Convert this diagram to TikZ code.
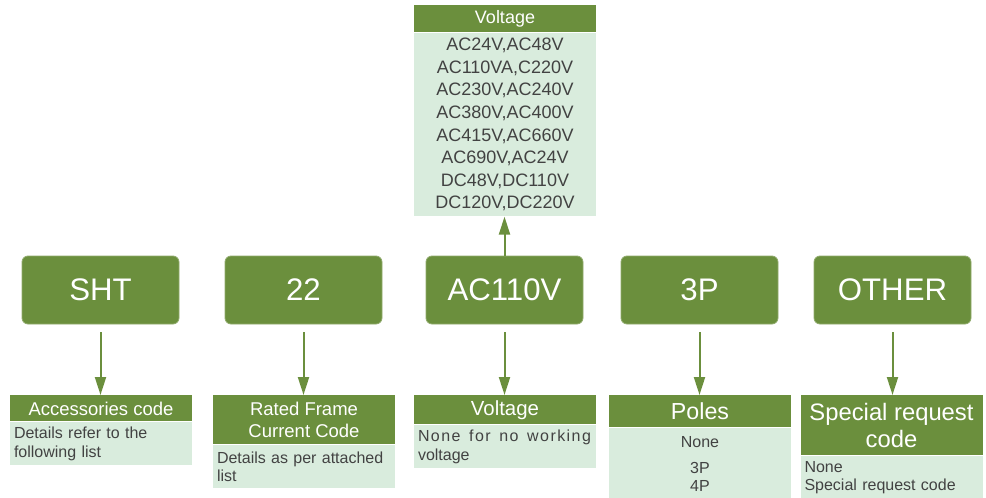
\documentclass[tikz,border=0pt]{standalone}
\usepackage{fontspec}
\setmainfont{Liberation Sans}
\usetikzlibrary{arrows.meta,positioning}
\definecolor{leaf}{HTML}{6B8F3D}
\definecolor{mint}{HTML}{D9ECDD}
\definecolor{ink}{HTML}{424242}

\begin{document}
\begin{tikzpicture}[
    x=0.5pt, y=-0.5pt,
    >={Triangle[length=9pt,width=5.5pt]},
    code/.style={rectangle, rounded corners=3pt, fill=leaf, draw=leaf!75!white,
        line width=0.4pt, text=white, minimum width=78.5pt, minimum height=34pt,
        font=\fontsize{15.6}{18}\selectfont},
    head/.style={fill=leaf, text=white, minimum width=91pt, inner sep=0pt,
        align=center, anchor=north},
    body/.style={fill=mint, text=ink, minimum width=91pt, inner xsep=2pt,
        inner ysep=0pt, anchor=north, font=\fontsize{8}{9.3}\selectfont},
    link/.style={->, draw=leaf, fill=leaf, line width=1pt}]
    \useasboundingbox (0,0) rectangle (986,498);

    % Ordering code
    \node[code] (sht)   at (100.5,290) {SHT};
    \node[code] (frame) at (303.5,290) {22};
    \node[code] (volt)  at (504.5,290) {AC110V};
    \node[code] (poles) at (699.5,290) {3P};
    \node[code] (other) at (892.5,290) {OTHER};

    % Voltage list above
    \node[head, minimum height=13.5pt, font=\fontsize{9}{11}\selectfont]
        (listh) at (505,5) {Voltage};
    \node[body, below=0pt of listh, minimum height=91.5pt, align=center,
        font=\fontsize{9}{11.3}\selectfont] (listb)
        {AC24V,AC48V\\AC110VA,C220V\\AC230V,AC240V\\AC380V,AC400V\\
         AC415V,AC660V\\AC690V,AC24V\\DC48V,DC110V\\DC120V,DC220V};

    % Explanations below
    \node[head, minimum height=13pt, font=\fontsize{9.25}{11}\selectfont]
        (shth) at (101,395) {Accessories code};
    \node[body, below=0pt of shth, minimum height=21.5pt, text width=87pt,
        align=left] (shtb) {Details refer to the\\following list};

    \node[head, minimum height=24.5pt, font=\fontsize{9.25}{10.7}\selectfont]
        (frameh) at (304,395) {Rated Frame\\Current Code};
    \node[body, below=0pt of frameh, minimum height=21.5pt, text width=87pt,
        align=left] (frameb) {Details as per attached\\list};

    \node[head, minimum height=14.5pt, font=\fontsize{10.2}{12}\selectfont]
        (volth) at (505,395) {Voltage};
    \node[body, below=0pt of volth, minimum height=21.5pt, text width=87pt,
        align=left] (voltb)
        {\makebox[86.5pt][l]{\addfontfeature{LetterSpace=9}%
         None\hfill for\hfill no\hfill working}\\voltage};

    \node[head, minimum height=16pt, font=\fontsize{11.6}{13}\selectfont]
        (polesh) at (700,395) {Poles};
    \node[body, below=0pt of polesh, minimum height=35.5pt, align=center,
        font=\fontsize{8}{9}\selectfont] (polesb) {None\\[4pt]3P\\4P};

    \node[head, minimum height=30pt, font=\fontsize{11.9}{13.8}\selectfont]
        (otherh) at (891.5,395) {Special request\\code};
    \node[body, below=0pt of otherh, minimum height=21.5pt, text width=87pt,
        align=left] (otherb) {None\\Special request code};

    % Arrows
    \draw[link] (volt.north) -- (volt.north |- listb.south);
    \foreach \c in {sht,frame,volt,poles,other}
        \draw[link, shorten <=4pt] (\c.south) -- (\c.south |- \c h.north);
\end{tikzpicture}
\end{document}
